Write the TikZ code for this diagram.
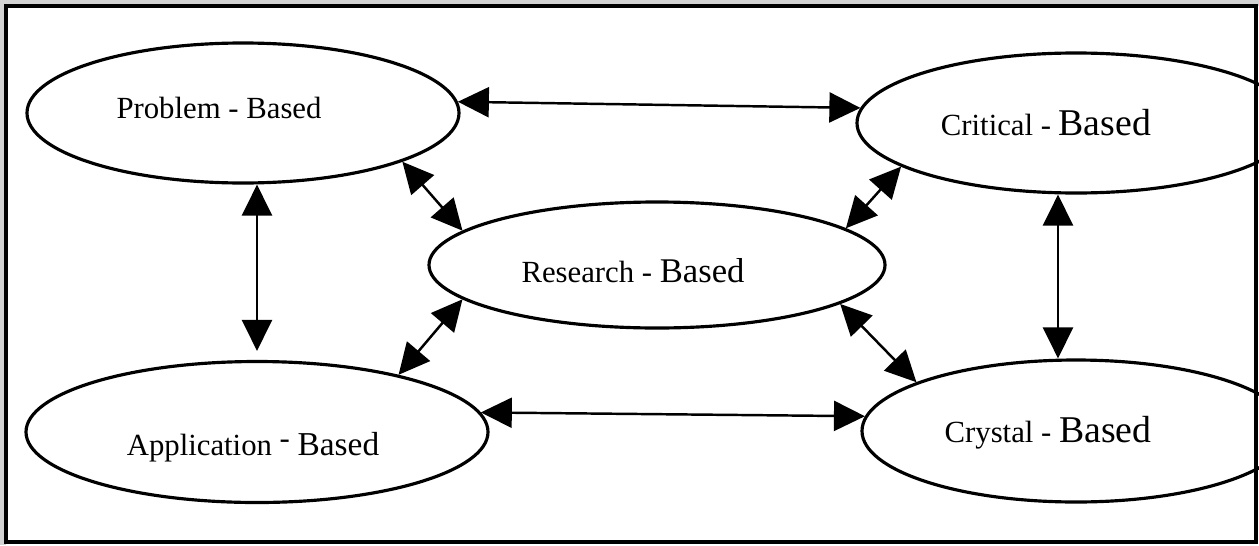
\documentclass[tikz,border=0pt]{standalone}
\usepackage{fontspec}
\setmainfont{Liberation Serif}
\usepackage{tikz}
\usetikzlibrary{arrows.meta,shapes.geometric}

\newcommand{\lblsmall}{\fontsize{17.5}{20}\selectfont}
\newcommand{\lblbig}[1]{\fontsize{#1}{24}\selectfont}

\begin{document}
\begin{tikzpicture}[
		ell/.style={draw, ellipse, line width=1.8pt, inner sep=0pt},
		dbl/.style={{Triangle[length=0.62cm,width=0.6cm]}-{Triangle[length=0.62cm,width=0.6cm]}, line width=1.4pt}
	]
				\useasboundingbox (0,0) rectangle (25.18,10.9);
				\clip (0,0) rectangle (25.18,10.9);
				\fill[white] (0,0) rectangle (25.18,10.9);
				\fill[gray!35] (0,10.78) rectangle (25.18,10.9);
				\fill[gray!35] (0,0) rectangle (0.12,10.9);
				\draw[line width=2pt, fill=white] (0.12,0.06) rectangle (25.12,10.78);
				% ellipses
				\node[ell, minimum width=8.64cm, minimum height=2.8cm] (prob) at (4.86,8.64) {};
				\node[ell, minimum width=8.76cm, minimum height=2.8cm] (crit) at (21.52,8.44) {};
				\node[ell, minimum width=9.12cm, minimum height=2.52cm] (res) at (13.14,5.6) {};
				\node[ell, minimum width=9.24cm, minimum height=2.82cm] (app) at (5.14,2.26) {};
				\node[ell, minimum width=8.56cm, minimum height=2.84cm] (cryst) at (21.52,2.28) {};
				% labels
				\node[anchor=base] (probtxt) at (4.38,8.54) {\lblsmall Problem - Based};
				\node[anchor=base] (crittxt) at (20.92,8.2) {\lblsmall Critical - \lblbig{21.5}Based};
				\node[anchor=base] (restxt) at (12.66,5.26) {\lblsmall Research - \lblbig{19.7}Based};
				\node[anchor=base] (apptxt) at (5.06,1.8) {\lblsmall Application \raisebox{0.45ex}{-} \lblbig{19}Based};
				\node[anchor=base] (crysttxt) at (20.96,2.06) {\lblsmall Crystal - \lblbig{21.5}Based};
				% arrows
				\draw[dbl] (prob.3) -- (crit.176);
				\draw[dbl] (app.north |- prob.south) -- ([yshift=0.18cm]app.north);
				\draw[dbl] ([xshift=-0.36cm]crit.south) -- ([xshift=-0.36cm]cryst.north);
				\draw[dbl] (app.5) -- (cryst.176);
				\draw[dbl] (prob.-17) -- (res.170);
				\draw[dbl] (crit.194) -- (res.11);
				\draw[dbl] (res.190) -- (app.22);
				\draw[dbl] (res.-12) -- (cryst.163);
		\end{tikzpicture}
\end{document}
